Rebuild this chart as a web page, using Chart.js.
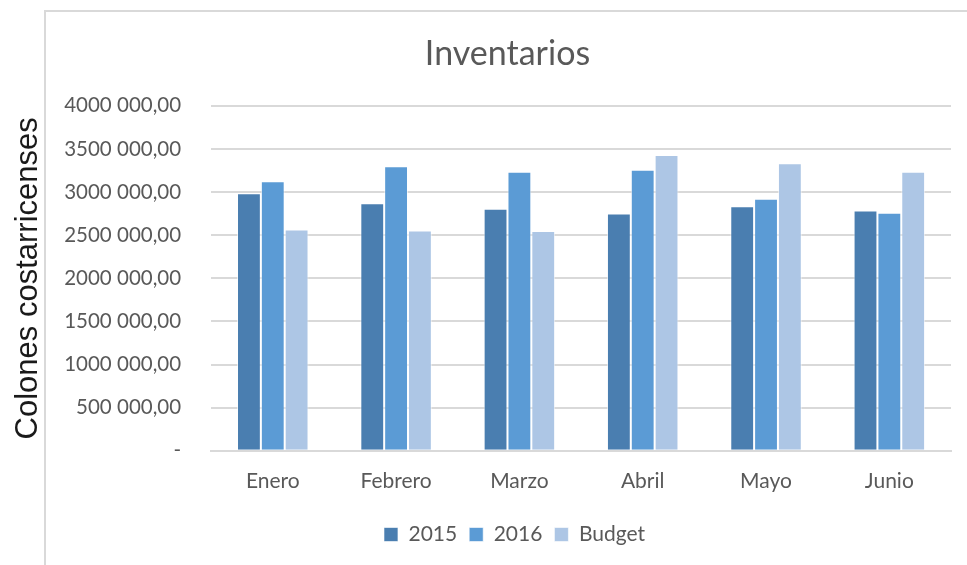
<!DOCTYPE html>
<html lang="es">
<head>
<meta charset="utf-8">
<title>Inventarios</title>
<script src="https://cdn.jsdelivr.net/npm/chart.js@4"></script>
<style>
    html, body { margin: 0; padding: 0; background: #ffffff; }
    #caja { position: relative; width: 967px; height: 565px; }
    #marco {
        position: absolute; left: 44px; top: 10px; right: 0; bottom: 0;
        border-top: 2px solid #d9d9d9; border-left: 2px solid #d9d9d9;
        pointer-events: none;
    }
</style>
</head>
<body>
<div id="caja">
    <canvas id="grafico" width="967" height="565"></canvas>
    <div id="marco"></div>
</div>
<script>
const meses = ["Enero", "Febrero", "Marzo", "Abril", "Mayo", "Junio"];

const serie2015 = [2985000, 2869000, 2806000, 2752000, 2834000, 2787000];

const serie2016 = [3124000, 3299000, 3236000, 3259000, 2922000, 2759000];

const budget = [2566000, 2555000, 2547000, 3430000, 3334000, 3236000];

const marcasY = [0, 500000, 1000000, 1500000, 2000000, 2500000, 3000000, 3500000, 4000000];

const colores = ["#4a7eb0", "#5b9bd5", "#adc6e5"];

const fuente = "Lato, 'Open Sans', sans-serif";

// formato tipo Excel: "4000 000,00" y guion para el cero
function formato(v) {
    if (v === 0) return "-";
    const miles = Math.floor(v / 1000);
    const resto = String(v % 1000).padStart(3, "0");
    return miles + " " + resto + ",00";
}

function serie(nombre, datos, color) {
    return {
        label: nombre,
        data: datos,
        backgroundColor: color,
        borderColor: "rgba(255,255,255,0.6)",
        borderWidth: 1,
        categoryPercentage: 0.58,
        barPercentage: 1.0,
    };
}

// el título y la leyenda van centrados en el marco, no en todo el lienzo
const centrarEnMarco = {
    id: "centrarEnMarco",
    afterLayout(chart) {
        if (chart.titleBlock) chart.titleBlock.left += 54;
        if (chart.legend) chart.legend.left += 68;
    },
};

new Chart(document.getElementById("grafico"), {
    type: "bar",

    data: {
        labels: meses,
        datasets: [
            serie("2015", serie2015, colores[0]),
            serie("2016", serie2016, colores[1]),
            serie("Budget", budget, colores[2]),
        ],
    },

    plugins: [centrarEnMarco],

    options: {
        responsive: false,
        animation: false,
        layout: { padding: { left: 10, right: 16, top: 0, bottom: 10 } },

        plugins: {
            title: {
                display: true,
                text: "Inventarios",
                color: "#595959",
                font: { family: fuente, size: 34, weight: "normal" },
                padding: { top: 34, bottom: 31 },
            },
            legend: {
                position: "bottom",
                labels: {
                    color: "#595959",
                    font: { family: fuente, size: 21 },
                    boxWidth: 14,
                    boxHeight: 14,
                    padding: 12,
                },
            },
            tooltip: { enabled: false },
        },

        scales: {
            x: {
                grid: { display: false, drawTicks: false },
                border: { color: "#d9d9d9", width: 2 },
                ticks: {
                    color: "#595959",
                    font: { family: fuente, size: 21 },
                    padding: 18,
                },
            },
            y: {
                min: 0,
                max: 4000000,
                afterBuildTicks: (eje) => {
                    eje.ticks = marcasY.map((v) => ({ value: v }));
                },
                grid: { color: "#d9d9d9", lineWidth: 2, drawTicks: false },
                border: { display: false },
                ticks: {
                    color: "#595959",
                    font: { family: fuente, size: 20.5 },
                    padding: 30,
                    callback: (v) => formato(v),
                },
                title: {
                    display: true,
                    text: "Colones costarricenses",
                    color: "#1a1a1a",
                    font: { family: "'Liberation Sans', Arial, sans-serif", size: 31 },
                    padding: { top: 0, bottom: -13 },
                },
            },
        },
    },
});
</script>
</body>
</html>
